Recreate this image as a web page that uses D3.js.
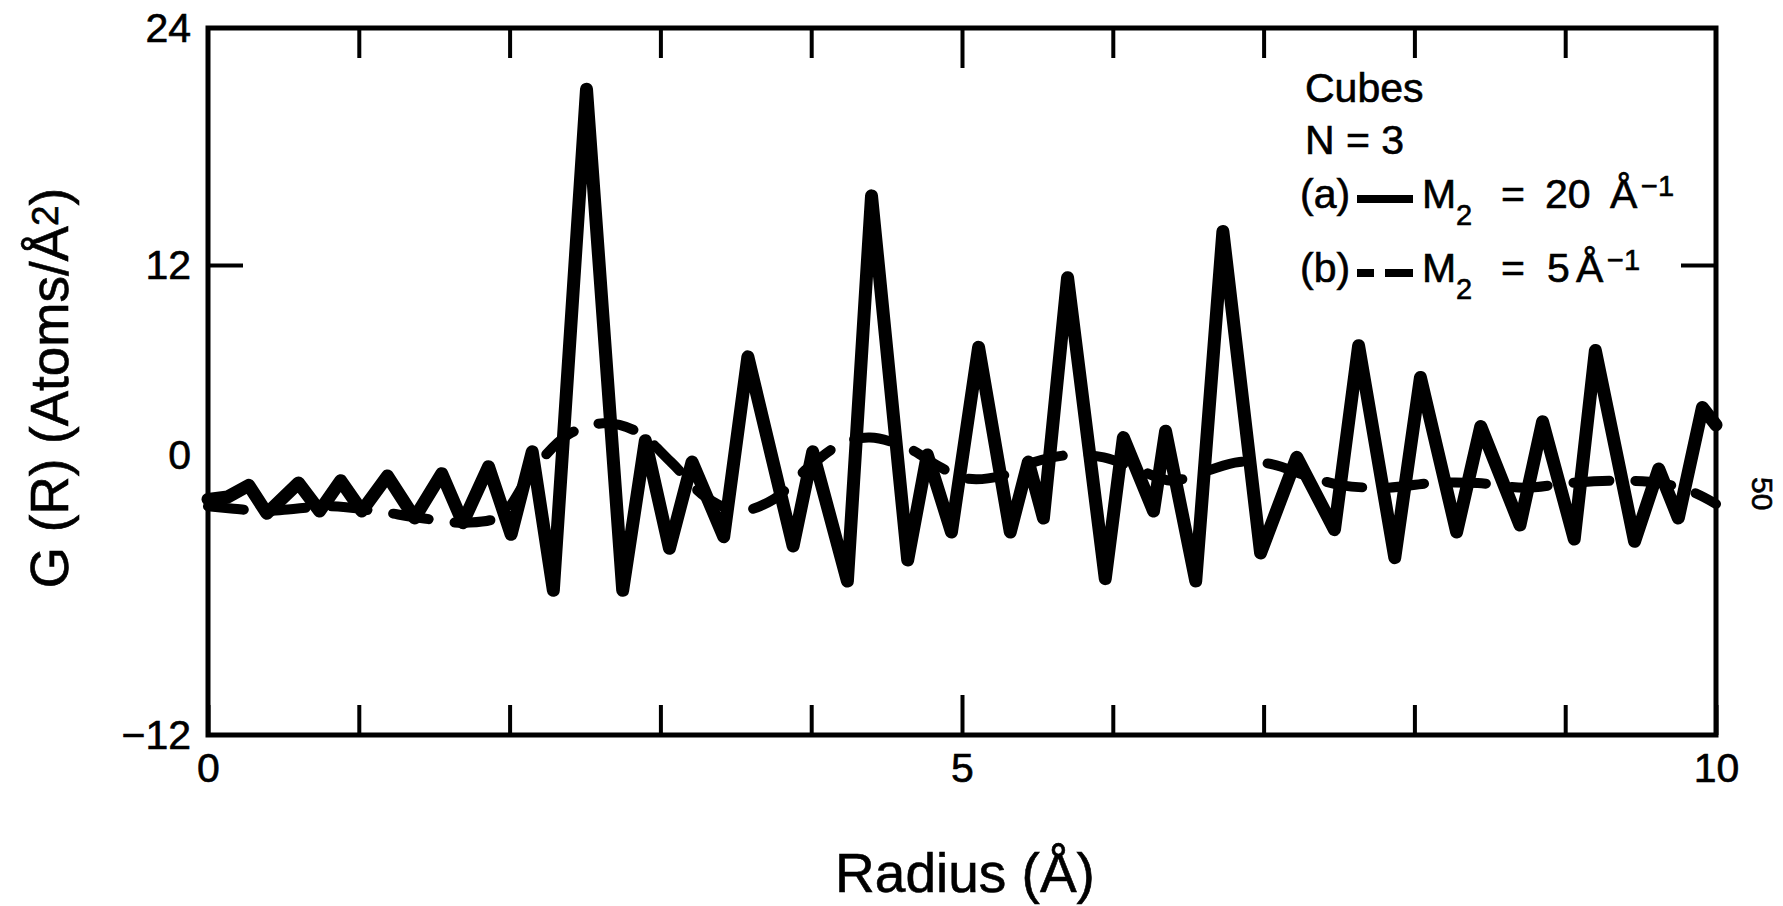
<!DOCTYPE html>
<html>
<head>
<meta charset="utf-8">
<script src="https://cdn.jsdelivr.net/npm/d3@7"></script>
<style>
  body { margin: 0; background: #fff; }
  text { font-family: "Liberation Sans", Arial, Helvetica, sans-serif; fill: #000; stroke: #000; stroke-width: 0.6px; }
</style>
</head>
<body>
<div id="container"></div>
<script>
/* CONSTANTS AND GLOBALS */
const width = 1783,
  height = 906,
  margin = { top: 28, bottom: 171, left: 208, right: 67 };

/* DATA */
// ticks
const xTicks = [0, 1, 2, 3, 4, 5, 6, 7, 8, 9, 10];
const xLabels = [0, 5, 10];
const yTicks = [-12, 0, 12, 24];
// the printed figure spaces its y labels unevenly, so each label keeps its own height
const yTickPos = [735, 455, 265, 28];

// (a) M2 = 20 Å^-1, solid
const radiusA = [0, 0.13, 0.27, 0.39, 0.60, 0.74, 0.88, 1.02, 1.19, 1.37, 1.55, 1.69, 1.86, 2.01, 2.15, 2.29,
  2.51, 2.75, 2.90, 3.06, 3.21, 3.42, 3.58, 3.88, 4.01, 4.24, 4.40, 4.64, 4.77, 4.93, 5.11, 5.32, 5.44, 5.54,
  5.70, 5.95, 6.07, 6.27, 6.35, 6.55, 6.73, 6.98, 7.22, 7.47, 7.63, 7.87, 8.04, 8.28, 8.44, 8.70, 8.85, 9.06,
  9.20, 9.46, 9.62, 9.75, 9.91, 10.0];
const gA = [-1.9, -1.8, -1.3, -2.5, -1.2, -2.4, -1.1, -2.4, -0.9, -2.7, -0.8, -2.9, -0.5, -3.4, 0.2, -5.8,
  20.9, -5.8, 0.9, -4.0, -0.3, -3.5, 6.2, -3.9, 0.2, -5.4, 15.5, -4.5, 0.0, -3.3, 6.8, -3.3, -0.3, -2.7,
  11.2, -5.3, 1.1, -2.4, 1.5, -5.4, 13.7, -4.2, -0.1, -3.2, 6.9, -4.4, 4.9, -3.3, 1.8, -3.0, 2.1, -3.6,
  6.6, -3.7, -0.6, -2.7, 3.0, 1.9];

// (b) M2 = 5 Å^-1, dashed
const radiusB = [0, 0.17, 0.36, 0.58, 0.81, 1.11, 1.41, 1.71, 1.94, 2.16, 2.39, 2.62, 2.84, 3.07, 3.30, 3.52,
  3.75, 3.97, 4.20, 4.39, 4.65, 4.85, 5.02, 5.26, 5.48, 5.71, 5.94, 6.16, 6.39, 6.61, 6.84, 7.06, 7.29, 7.52,
  7.82, 8.12, 8.42, 8.73, 9.03, 9.33, 9.63, 9.85, 10.0];
const gB = [-2.2, -2.3, -2.4, -2.3, -2.2, -2.4, -2.7, -2.9, -2.6, -0.6, 1.3, 2.0, 1.5, -0.3, -1.8, -2.4,
  -1.9, -0.6, 0.7, 1.1, 0.4, -0.5, -1.0, -0.9, -0.3, 0.0, -0.1, -0.6, -1.1, -0.7, -0.3, -0.4, -0.9, -1.3,
  -1.4, -1.2, -1.2, -1.4, -1.2, -1.1, -1.2, -1.6, -2.1];

const seriesA = radiusA.map((r, i) => ({ r, g: gA[i] }));
const seriesB = radiusB.map((r, i) => ({ r, g: gB[i] }));

/* SCALES */
const xScale = d3.scaleLinear()
  .domain([0, 10])
  .range([margin.left, width - margin.right]);

const yScale = d3.scaleLinear()
  .domain(yTicks)
  .range(yTickPos);

/* SVG */
const svg = d3.select("#container")
  .append("svg")
  .attr("width", width)
  .attr("height", height);

const font = '"Liberation Sans", Arial, Helvetica, sans-serif';

// bottom axis
const xBottom = svg.append("g")
  .attr("transform", `translate(0,${height - margin.bottom})`)
  .call(d3.axisBottom(xScale)
    .tickValues(xTicks)
    .tickSizeInner(-30)
    .tickSizeOuter(0)
    .tickPadding(18)
    .tickFormat(d => xLabels.includes(d) ? d : ""));

// top axis
const xTop = svg.append("g")
  .attr("transform", `translate(0,${margin.top})`)
  .call(d3.axisTop(xScale)
    .tickValues(xTicks.slice(1, -1))
    .tickSizeInner(-30)
    .tickSizeOuter(0)
    .tickFormat(""));

// left axis
const yLeft = svg.append("g")
  .attr("transform", `translate(${margin.left},0)`)
  .call(d3.axisLeft(yScale)
    .tickValues(yTicks)
    .tickSizeInner(-35)
    .tickSizeOuter(0)
    .tickPadding(17));

// right axis
const yRight = svg.append("g")
  .attr("transform", `translate(${width - margin.right},0)`)
  .call(d3.axisRight(yScale)
    .tickValues([12])
    .tickSizeInner(-35)
    .tickSizeOuter(0)
    .tickFormat(""));

[xBottom, xTop, yLeft, yRight].forEach(g => {
  g.select(".domain").remove();
  g.attr("font-size", 41).attr("font-family", font);
  g.selectAll(".tick line").attr("stroke", "#000").attr("stroke-width", 4);
  g.selectAll(".tick text").attr("fill", "#000");
});

// longer tick at R = 5
xBottom.selectAll(".tick").filter(d => d === 5).select("line").attr("y2", -40);
xTop.selectAll(".tick").filter(d => d === 5).select("line").attr("y2", 40);
// only the 12 tick has a mark on the left
yLeft.selectAll(".tick").filter(d => d !== 12).select("line").remove();

// frame
svg.append("rect")
  .attr("x", margin.left)
  .attr("y", margin.top)
  .attr("width", width - margin.left - margin.right)
  .attr("height", height - margin.top - margin.bottom)
  .attr("fill", "none")
  .attr("stroke", "#000")
  .attr("stroke-width", 5);

/* LINES */
const lineA = d3.line()
  .x(d => xScale(d.r))
  .y(d => yScale(d.g));

const lineB = d3.line()
  .x(d => xScale(d.r))
  .y(d => yScale(d.g))
  .curve(d3.curveCatmullRom.alpha(0.5));

svg.append("path")
  .datum(seriesB)
  .attr("d", lineB)
  .attr("fill", "none")
  .attr("stroke", "#000")
  .attr("stroke-width", 10)
  .attr("stroke-linecap", "round")
  .attr("stroke-dasharray", "36 26");

svg.append("path")
  .datum(seriesA)
  .attr("d", lineA)
  .attr("fill", "none")
  .attr("stroke", "#000")
  .attr("stroke-width", 13)
  .attr("stroke-linejoin", "round")
  .attr("stroke-linecap", "round");

/* LEGEND */
const legendTitle = ["Cubes", "N = 3"];
const legendItems = [
  { tag: "(a)", value: "20", dash: null, y: 208, valueX: 1545, unitX: 1610, expX: 1641 },
  { tag: "(b)", value: "5", dash: "17 11 40", y: 282, valueX: 1547, unitX: 1576, expX: 1607 }
];

const legend = svg.append("g").attr("font-size", 41);

legend.selectAll("text.title")
  .data(legendTitle)
  .join("text")
  .attr("class", "title")
  .attr("x", 1305)
  .attr("y", (d, i) => 102 + i * 52)
  .text(d => d);

const item = legend.selectAll("g.item")
  .data(legendItems)
  .join("g")
  .attr("class", "item");

item.append("text").attr("x", 1300).attr("y", d => d.y).text(d => d.tag);
item.append("line")
  .attr("x1", 1357).attr("x2", 1413)
  .attr("y1", d => d.y - 9).attr("y2", d => d.y - 9)
  .attr("stroke", "#000")
  .attr("stroke-width", 8)
  .attr("stroke-dasharray", d => d.dash);
item.append("text").attr("x", 1422).attr("y", d => d.y).text("M");
item.append("text").attr("x", 1456).attr("y", d => d.y + 17).attr("font-size", 29).text("2");
item.append("text").attr("x", 1501).attr("y", d => d.y).text("=");
item.append("text").attr("x", d => d.valueX).attr("y", d => d.y).text(d => d.value);
item.append("text").attr("x", d => d.unitX).attr("y", d => d.y).text("Å");
item.append("text").attr("x", d => d.expX).attr("y", d => d.y - 12).attr("font-size", 29).text("−1");

/* AXIS TITLES */
svg.append("text")
  .attr("x", 965)
  .attr("y", 892)
  .attr("text-anchor", "middle")
  .attr("font-size", 55)
  .text("Radius (Å)");

const yTitle = svg.append("text")
  .attr("transform", "translate(68,388) rotate(-90)")
  .attr("text-anchor", "middle")
  .attr("font-size", 53);
yTitle.append("tspan").text("G (R) (Atoms/Å");
yTitle.append("tspan").attr("font-size", 37).attr("dy", -10).text("2");
yTitle.append("tspan").attr("dy", 10).text(")");

// page number in the margin
svg.append("text")
  .attr("transform", "translate(1752,477) rotate(90)")
  .attr("font-size", 30)
  .text("50");
</script>
</body>
</html>
